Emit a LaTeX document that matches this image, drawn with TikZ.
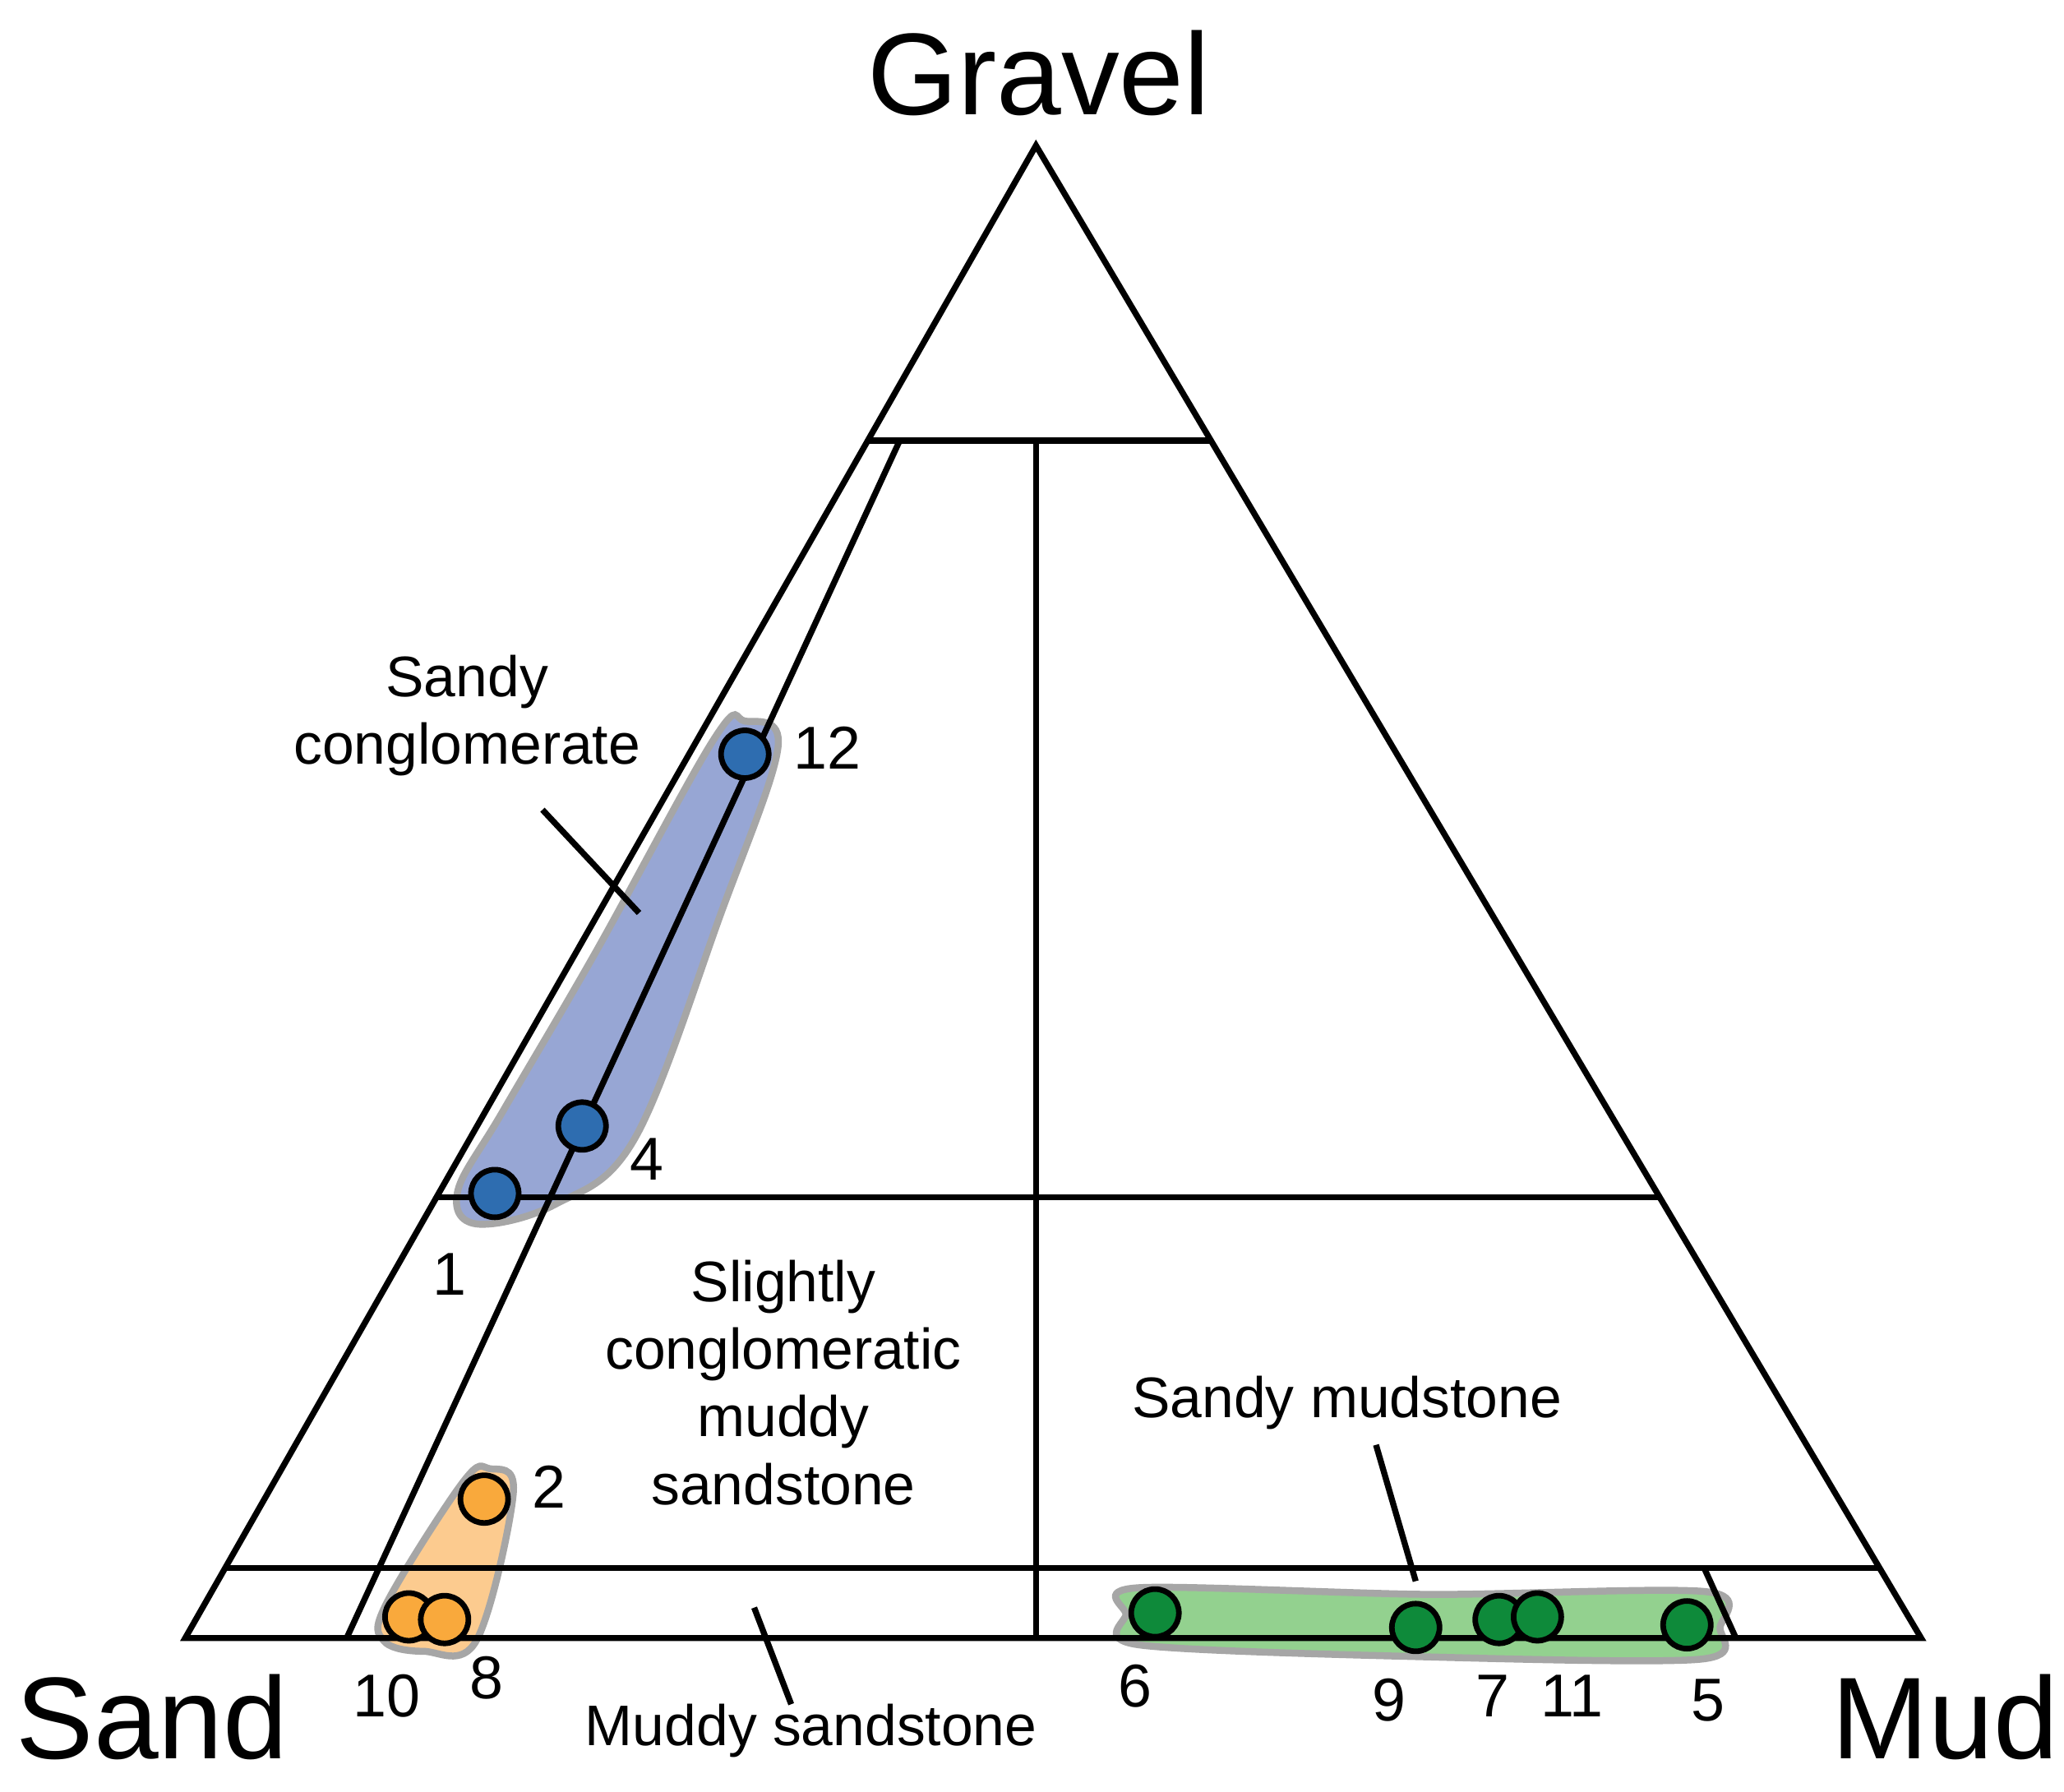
\documentclass[tikz,border=0pt]{standalone}
\usepackage{fontspec}
\setmainfont{Liberation Sans}
\begin{document}
\begin{tikzpicture}[x=0.01cm,y=-0.01cm,
  ln/.style={line width=1.3pt},
  dot/.style={circle,draw,line width=1.2pt,minimum size=0.36cm,inner sep=0pt},
  lab/.style={font=\fontsize{12.3}{12.5}\selectfont,inner sep=0pt},
  num/.style={font=\fontsize{13}{13}\selectfont,inner sep=0pt},
  big/.style={font=\fontsize{25}{25}\selectfont,inner sep=0pt},
  grp/.style={draw=gray!70,line width=1.5pt}]
\definecolor{bluef}{HTML}{97A6D4}\definecolor{blued}{HTML}{2E6DB0}
\definecolor{orf}{HTML}{FCCB8F}\definecolor{ord}{HTML}{F9A93C}
\definecolor{grf}{HTML}{93D18F}\definecolor{grd}{HTML}{0E8A3A}
\useasboundingbox (0,0) rectangle (1560,1354);
% shaded groups
\filldraw[fill=bluef,grp] plot[smooth cycle,tension=0.6] coordinates {(540,558)(563,545)(588,565)(545,690)(480,860)(420,910)(360,925)(346,900)(380,840)(450,720)};
\filldraw[fill=orf,grp] plot[smooth cycle,tension=0.6] coordinates {(350,1120)(370,1110)(388,1128)(360,1240)(320,1248)(290,1240)(292,1212)};
\filldraw[fill=grf,grp] plot[smooth cycle,tension=0.5] coordinates {(860,1200)(1080,1205)(1290,1203)(1300,1230)(1285,1254)(1070,1252)(860,1243)(851,1220)};
% triangle
\coordinate (G) at (783,110); \coordinate (S) at (140,1238); \coordinate (M) at (1452,1238);
\draw[ln] (G)--(S)--(M)--cycle;
\draw[ln] (656,333)--(915,333);
\draw[ln] (330,905)--(1254,905);
\draw[ln] (170,1185)--(1421,1185);
\draw[ln] (783,333)--(783,1238);
\draw[ln] (680,333)--(262,1238);
\draw[ln] (1288,1185)--(1312,1238);
% leaders
\draw[ln] (410,612)--(483,690);
\draw[ln] (1040,1092)--(1070,1195);
\draw[ln] (570,1215)--(598,1288);
% dots
\foreach \n/\x/\y in {p12/563/570,p4/440/851,p1/374/902}\node[dot,fill=blued] (\n) at (\x,\y) {};
\foreach \n/\x/\y in {p2/366/1133,p10/309/1222,p8/336/1224}\node[dot,fill=ord] (\n) at (\x,\y) {};
\foreach \n/\x/\y in {p6/873/1219,p9/1070/1230,p7/1133/1224,p11/1162/1222,p5/1275/1228}\node[dot,fill=grd] (\n) at (\x,\y) {};
% numbers
\foreach \n/\t/\x/\y in {n12/12/625/565,n4/4/489/876,n1/1/340/963,n2/2/415/1124,n10/10/292/1282,n8/8/368/1268,n6/6/858/1274,n9/9/1050/1285,n7/7/1128/1282,n11/11/1188/1282,n5/5/1291/1285}
  \node[num] (\n) at (\x,\y) {\t};
% labels
\node[lab,align=center] (sc) at (353,541) {Sandy\\[2pt]conglomerate};
\node[lab,align=center] (scm) at (592,1045) {Slightly\\[2pt]conglomeratic\\[2pt]muddy\\[2pt]sandstone};
\node[lab] (sm) at (1018,1060) {Sandy mudstone};
\node[lab] (ms) at (613,1308) {Muddy sandstone};
\node[big] (tg) at (785,55) {Gravel};
\node[big] (ts) at (115,1298) {Sand};
\node[big] (tm) at (1470,1298) {Mud};
\end{tikzpicture}
\end{document}
